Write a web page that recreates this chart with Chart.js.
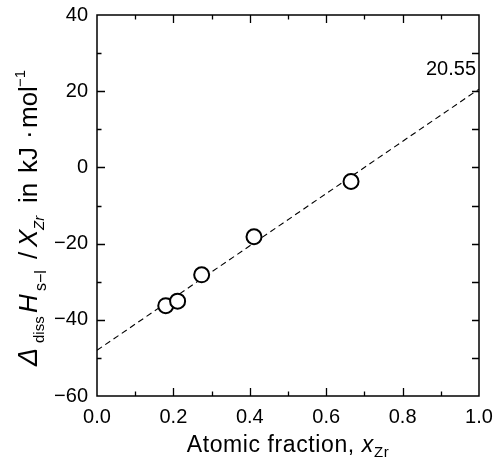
<!DOCTYPE html>
<html>
<head>
<meta charset="utf-8">
<script src="https://cdn.jsdelivr.net/npm/chart.js@4.4.1/dist/chart.umd.min.js"></script>
<style>
  html, body { margin: 0; padding: 0; background: #ffffff; }
  #wrap { width: 494px; height: 474px; }
</style>
</head>
<body>
<div id="wrap"><canvas id="c" width="494" height="474"></canvas></div>
<script>
// ---- data ----
const xZr = [0.180, 0.211, 0.274, 0.411, 0.665];
const dHperX = [-36.3, -35.1, -28.2, -18.2, -3.7];
const fitX = [0.0, 1.0];
const fitY = [-48.0, 20.55];
const fitLabel = '20.55';
const xTicks = [0.0, 0.2, 0.4, 0.6, 0.8, 1.0];
const yTicks = [-60, -40, -20, 0, 20, 40];

const FONT = '"Liberation Sans", Arial, sans-serif';

function setFont(ctx, s) {
  ctx.font = (s.it ? 'italic ' : '') + s.size + 'px ' + FONT;
}
// segments with explicit offsets (at) along the baseline, or sequential
function drawRich(ctx, segs, x, y) {
  let cx = x;
  for (const s of segs) {
    setFont(ctx, s);
    if (s.at !== undefined) cx = x + s.at;
    ctx.fillText(s.t, cx, y + (s.dy || 0));
    cx += ctx.measureText(s.t).width + (s.gap || 0);
  }
  return cx - x;
}
function richWidth(ctx, segs) {
  let w = 0;
  for (const s of segs) {
    setFont(ctx, s);
    w += ctx.measureText(s.t).width + (s.gap || 0);
  }
  return w;
}

const framePlugin = {
  id: 'frame',
  afterDatasetsDraw(chart) {
    const ctx = chart.ctx;
    const a = chart.chartArea;
    const xs = chart.scales.x, ys = chart.scales.y;
    ctx.save();
    ctx.strokeStyle = '#000';
    ctx.lineWidth = 1.5;
    ctx.strokeRect(a.left, a.top, a.right - a.left, a.bottom - a.top);
    ctx.lineWidth = 1.3;
    ctx.beginPath();
    xs.ticks.forEach(t => {
      const v = t.value;
      const px = Math.round(xs.getPixelForValue(v)) + 0.5;
      const major = Math.round(v * 10) % 2 === 0;
      if (px <= a.left + 1 || px >= a.right - 1) return;
      const len = major ? 8 : 4.5;
      ctx.moveTo(px, a.bottom); ctx.lineTo(px, a.bottom - len);
      ctx.moveTo(px, a.top); ctx.lineTo(px, a.top + len);
    });
    ys.ticks.forEach(t => {
      const v = t.value;
      const py = Math.round(ys.getPixelForValue(v)) + 0.5;
      const major = Math.round(v) % 20 === 0;
      if (py <= a.top + 1 || py >= a.bottom - 1) return;
      const len = major ? 8 : 4.5;
      ctx.moveTo(a.left, py); ctx.lineTo(a.left + len, py);
      ctx.moveTo(a.right, py); ctx.lineTo(a.right - 7, py);
    });
    ctx.stroke();

    // fit-end value label
    ctx.fillStyle = '#000';
    ctx.font = '20px ' + FONT;
    ctx.textAlign = 'right';
    ctx.textBaseline = 'alphabetic';
    const endY = ys.getPixelForValue(fitY[1]);
    ctx.fillText(fitLabel, a.right - 3, endY - 14);

    // x title
    ctx.textAlign = 'left';
    ctx.letterSpacing = '0.6px';
    const xt = [
      { t: 'Atomic fraction, ', size: 23 },
      { t: 'x', size: 23, it: true, gap: 0 },
      { t: 'Zr', size: 15, dy: 5 }
    ];
    const w = richWidth(ctx, xt);
    drawRich(ctx, xt, (a.left + a.right) / 2 - w / 2, 452);
    ctx.letterSpacing = '0px';

    // y title (rotated)
    const yt = [
      { t: '\u0394', size: 27, it: true, at: 0 },
      { t: 'diss', size: 15, dy: 7, at: 23 },
      { t: 'H', size: 26, it: true, at: 53 },
      { t: 's\u2212l', size: 16, dy: 9, at: 75 },
      { t: '/', size: 26, at: 107 },
      { t: 'X', size: 26, it: true, at: 119 },
      { t: 'Zr', size: 15, it: true, dy: 7, at: 136 },
      { t: 'in', size: 26, at: 163 },
      { t: 'kJ', size: 26, at: 193 },
      { t: '\u00B7', size: 26, at: 227 },
      { t: 'mol', size: 26, at: 238 },
      { t: '\u22121', size: 15, dy: -12, at: 279 }
    ];
    ctx.translate(37, 366);
    ctx.rotate(-Math.PI / 2);
    drawRich(ctx, yt, 0, 0);
    ctx.restore();
  }
};

function noScalePadding(s) {
  s.paddingLeft = 0; s.paddingRight = 0; s.paddingTop = 0; s.paddingBottom = 0;
}

new Chart(document.getElementById('c'), {
  type: 'scatter',
  data: {
    datasets: [
      {
        label: 'data',
        data: xZr.map((x, i) => ({ x: x, y: dHperX[i] })),
        pointRadius: 7.5,
        pointHoverRadius: 7.5,
        pointBorderWidth: 2,
        pointBackgroundColor: '#ffffff',
        pointBorderColor: '#000000',
        showLine: false
      },
      {
        label: 'fit',
        type: 'line',
        data: fitX.map((x, i) => ({ x: x, y: fitY[i] })),
        borderColor: '#000000',
        borderWidth: 1.1,
        borderDash: [6, 4],
        pointRadius: 0,
        fill: false,
        tension: 0
      }
    ]
  },
  options: {
    responsive: false,
    animation: false,
    devicePixelRatio: 1,
    layout: { padding: { left: 0, right: 15, top: 15, bottom: 0 } },
    plugins: { legend: { display: false }, tooltip: { enabled: false } },
    scales: {
      x: {
        type: 'linear', min: 0, max: 1,
        afterFit: s => { s.height = 78; noScalePadding(s); },
        grid: { display: false, drawTicks: false },
        border: { display: false },
        ticks: {
          stepSize: 0.1, padding: 9, color: '#000', maxRotation: 0, autoSkip: false,
          font: { family: FONT, size: 20 },
          callback: v => xTicks.some(t => Math.abs(t - v) < 1e-6) ? v.toFixed(1) : ''
        }
      },
      y: {
        type: 'linear', min: -60, max: 40,
        afterFit: s => { s.width = 97; noScalePadding(s); },
        grid: { display: false, drawTicks: false },
        border: { display: false },
        ticks: {
          stepSize: 10, padding: 9, color: '#000', autoSkip: false,
          font: { family: FONT, size: 20 },
          callback: v => yTicks.some(t => Math.abs(t - v) < 1e-6) ? String(v).replace('-', '\u2212') : ''
        }
      }
    }
  },
  plugins: [framePlugin]
});
</script>
</body>
</html>
